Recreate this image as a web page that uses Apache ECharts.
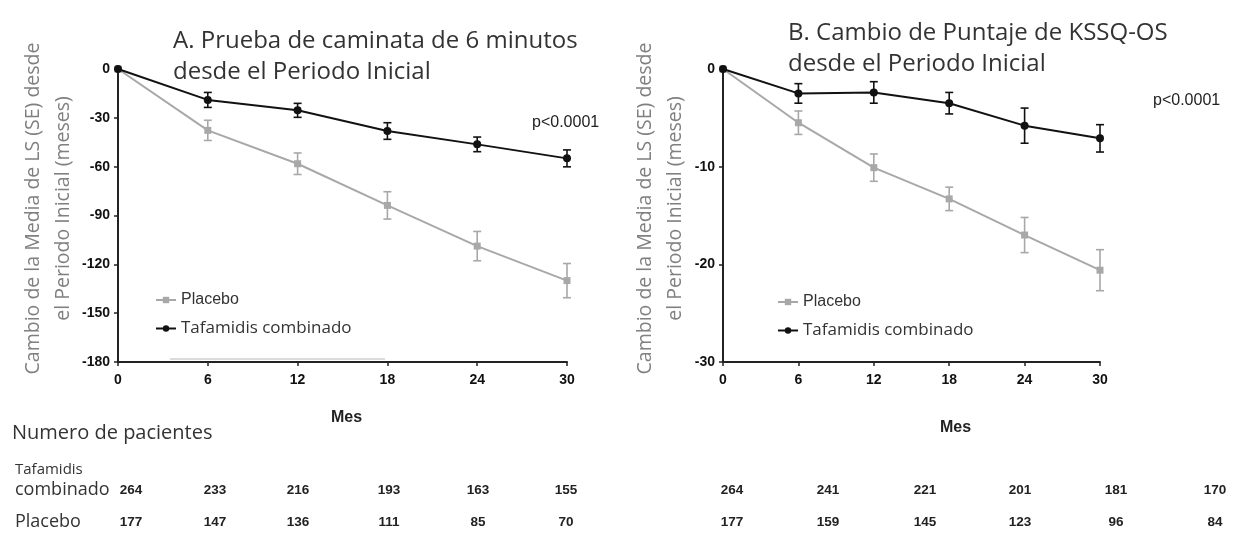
<!DOCTYPE html>
<html>
<head>
<meta charset="utf-8">
<script src="https://cdn.jsdelivr.net/npm/echarts@6/dist/echarts.min.js"></script>
<style>
  html, body { margin: 0; padding: 0; background: #fff; }
  #chart { width: 1237px; height: 536px; }
</style>
</head>
<body>
<div id="chart"></div>
<script>
// meses
var months = [0, 6, 12, 18, 24, 30];

// A. prueba de caminata (media LS y SE)
var tafaA = [0, -19, -25.4, -38.1, -46.3, -54.9];
var tafaAse = [0, 4.6, 4.3, 5.1, 4.5, 5.2];
var placA = [0, -37.7, -58.2, -83.8, -108.8, -130];
var placAse = [0, 6.2, 6.6, 8.4, 9, 10.5];

// B. KSSQ-OS
var tafaB = [0, -2.5, -2.4, -3.5, -5.8, -7.1];
var tafaBse = [0, 1.0, 1.1, 1.1, 1.8, 1.4];
var placB = [0, -5.5, -10.1, -13.3, -17.0, -20.6];
var placBse = [0, 1.2, 1.4, 1.2, 1.8, 2.1];

// numero de pacientes
var nTafaA = [264, 233, 216, 193, 163, 155];
var nPlacA = [177, 147, 136, 111, 85, 70];
var nTafaB = [264, 241, 221, 201, 181, 170];
var nPlacB = [177, 159, 145, 123, 96, 84];

var yTicksA = [-180, 0, 30];
var yTicksB = [-30, 0, 10];

var GRAY = '#a8a8a8';
var BLACK = '#111';
var numFont = '"Liberation Sans", Arial, sans-serif';
var txtFont = '"Open Sans", "Noto Sans", sans-serif';

function pts(y) {
  return months.map(function (m, i) { return [m, y[i]]; });
}
function errPts(y, se) {
  return months.map(function (m, i) { return [m, y[i], se[i]]; });
}

function errRender(params, api) {
  var x = api.value(0), y = api.value(1), e = api.value(2);
  if (!e) return null;
  var a = api.coord([x, y + e]);
  var b = api.coord([x, y - e]);
  var c = api.visual('color');
  var w = 4;
  var st = { stroke: c, lineWidth: 1.6 };
  return {
    type: 'group',
    children: [
      { type: 'line', shape: { x1: a[0], y1: a[1], x2: b[0], y2: b[1] }, style: st },
      { type: 'line', shape: { x1: a[0] - w, y1: a[1], x2: a[0] + w, y2: a[1] }, style: st },
      { type: 'line', shape: { x1: b[0] - w, y1: b[1], x2: b[0] + w, y2: b[1] }, style: st }
    ]
  };
}

function xAx(idx, gap, shift) {
  return {
    type: 'value', gridIndex: idx, min: 0, max: 30, interval: 6,
    name: 'Mes', nameLocation: 'middle', nameGap: gap,
    nameTextStyle: { fontFamily: numFont, fontWeight: 'bold', fontSize: 16, color: '#222', padding: [0, 0, 0, shift] },
    axisLine: { onZero: false, lineStyle: { color: '#222', width: 2 } },
    axisTick: { show: true, length: 4, lineStyle: { color: '#222', width: 1.5 } },
    axisLabel: { fontFamily: numFont, fontWeight: 'bold', fontSize: 14, color: '#111', margin: 11 },
    splitLine: { show: false }
  };
}
function yAx(idx, t, gap) {
  return {
    type: 'value', gridIndex: idx, min: t[0], max: t[1], interval: t[2],
    name: 'Cambio de la Media de LS (SE) desde\nel Periodo Inicial (meses)',
    nameLocation: 'middle', nameRotate: 90, nameGap: gap,
    nameTextStyle: { fontFamily: txtFont, fontSize: 19.5, color: '#808080', lineHeight: 30, padding: [0, 0, 0, 14] },
    axisLine: { show: true, lineStyle: { color: '#222', width: 2 } },
    axisTick: { show: true, length: 4, lineStyle: { color: '#222', width: 1.5 } },
    axisLabel: { fontFamily: numFont, fontWeight: 'bold', fontSize: 14, color: '#111', margin: 8 },
    splitLine: { show: false }
  };
}

function lineS(name, data, idx, color, symbol) {
  return {
    name: name, type: 'line', xAxisIndex: idx, yAxisIndex: idx,
    data: data, symbol: symbol, symbolSize: symbol === 'rect' ? 7 : 8,
    itemStyle: { color: color }, lineStyle: { color: color, width: 2 },
    z: name === 'Placebo' ? 2 : 4
  };
}
function errS(data, idx, color) {
  return {
    type: 'custom', xAxisIndex: idx, yAxisIndex: idx, data: data,
    renderItem: errRender, itemStyle: { color: color }, z: 3, silent: true
  };
}

function legendAt(left, top) {
  return {
    orient: 'vertical', left: left, top: top, itemGap: 12,
    itemWidth: 20, itemHeight: 8,
    data: [
      { name: 'Placebo', textStyle: { fontFamily: numFont, fontSize: 16, color: '#333' } },
      { name: 'Tafamidis combinado', textStyle: { fontFamily: txtFont, fontSize: 17, color: '#333' } }
    ]
  };
}

// tabla de pacientes
var colA = [131, 215, 298, 389, 478, 566];
var colB = [732, 828, 925, 1020, 1116, 1215];
var rowT = 490, rowP = 522;
var table = [];
function row(vals, cols, y) {
  vals.forEach(function (v, i) {
    table.push({ type: 'text', x: cols[i], y: y,
      style: { text: String(v), font: 'bold 13.5px ' + numFont, fill: '#222', align: 'center', verticalAlign: 'middle' } });
  });
}
row(nTafaA, colA, rowT); row(nPlacA, colA, rowP);
row(nTafaB, colB, rowT); row(nPlacB, colB, rowP);
table.push(
  { type: 'text', x: 12, y: 433, style: { text: 'Numero de pacientes', font: '20px ' + txtFont, fill: '#333', verticalAlign: 'middle' } },
  { type: 'text', x: 15, y: 470, style: { text: 'Tafamidis', font: '15px ' + txtFont, fill: '#333', verticalAlign: 'middle' } },
  { type: 'text', x: 15, y: 490, style: { text: 'combinado', font: '18px ' + txtFont, fill: '#333', verticalAlign: 'middle' } },
  { type: 'text', x: 15, y: 522, style: { text: 'Placebo', font: '18px ' + txtFont, fill: '#333', verticalAlign: 'middle' } },
  { type: 'text', x: 532, y: 123, style: { text: 'p<0.0001', font: '16px ' + numFont, fill: '#222', verticalAlign: 'middle' } },
  { type: 'text', x: 1153, y: 101, style: { text: 'p<0.0001', font: '16px ' + numFont, fill: '#222', verticalAlign: 'middle' } },
  { type: 'line', shape: { x1: 170, y1: 359, x2: 385, y2: 359 }, style: { stroke: '#cfcfcf', lineWidth: 1.5 } }
);

var chart = echarts.init(document.getElementById('chart'), null, { renderer: 'canvas' });
chart.setOption({
  backgroundColor: '#fff',
  animation: false,
  title: [
    { text: 'A. Prueba de caminata de 6 minutos\ndesde el Periodo Inicial', left: 168, top: 21,
      textStyle: { fontFamily: txtFont, fontSize: 24, fontWeight: 'normal', color: '#333', lineHeight: 31 } },
    { text: 'B. Cambio de Puntaje de KSSQ-OS\ndesde el Periodo Inicial', left: 783, top: 13,
      textStyle: { fontFamily: txtFont, fontSize: 24, fontWeight: 'normal', color: '#333', lineHeight: 31 } }
  ],
  legend: [legendAt(150, 287), legendAt(772, 289)],
  grid: [
    { left: 118, top: 69, width: 449, height: 293 },
    { left: 723, top: 69, width: 377, height: 293 }
  ],
  xAxis: [xAx(0, 48, 8), xAx(1, 58, 88)],
  yAxis: [yAx(0, yTicksA, 36), yAx(1, yTicksB, 26)],
  series: [
    lineS('Placebo', pts(placA), 0, GRAY, 'rect'),
    errS(errPts(placA, placAse), 0, GRAY),
    lineS('Tafamidis combinado', pts(tafaA), 0, BLACK, 'circle'),
    errS(errPts(tafaA, tafaAse), 0, BLACK),
    lineS('Placebo', pts(placB), 1, GRAY, 'rect'),
    errS(errPts(placB, placBse), 1, GRAY),
    lineS('Tafamidis combinado', pts(tafaB), 1, BLACK, 'circle'),
    errS(errPts(tafaB, tafaBse), 1, BLACK)
  ],
  graphic: table
});
</script>
</body>
</html>
